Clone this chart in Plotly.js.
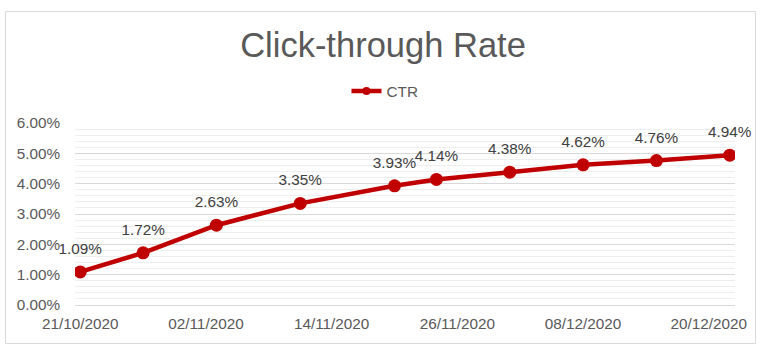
<!DOCTYPE html>
<html>
<head>
<meta charset="utf-8">
<script src="https://cdn.plot.ly/plotly-3.0.1.min.js"></script>
<style>
  html, body { margin: 0; padding: 0; background: #ffffff; }
  #chart { width: 766px; height: 352px; }
</style>
</head>
<body>
<div id="chart"></div>
<script>
const dates = ['2020-10-21', '2020-10-27', '2020-11-03', '2020-11-11', '2020-11-20',
               '2020-11-24', '2020-12-01', '2020-12-08', '2020-12-15', '2020-12-22'];
const ctr = [0.0109, 0.0172, 0.0263, 0.0335, 0.0393, 0.0414, 0.0438, 0.0462, 0.0476, 0.0494];
const seriesName = 'CTR';
const chartTitle = 'Click-through Rate';

const red = '#C00000';
const grey = '#595959';
const fontFam = '"Liberation Sans", Arial, sans-serif';

const lineTrace = {
  type: 'scatter',
  mode: 'lines+markers',
  x: dates,
  y: ctr,
  name: seriesName,
  showlegend: false,
  line: { color: red, width: 4.5 },
  marker: { color: red, size: 13 },
  hoverinfo: 'x+y'
};

const labelTrace = {
  type: 'scatter',
  mode: 'markers+text',
  x: dates,
  y: ctr,
  showlegend: false,
  marker: { color: 'rgba(0,0,0,0)', size: 21 },
  texttemplate: '%{y:.2%}',
  textposition: 'top center',
  textfont: { family: fontFam, size: 15.3, color: '#404040' },
  cliponaxis: false,
  hoverinfo: 'skip'
};

const legendTrace = {
  type: 'scatter',
  mode: 'lines+markers',
  x: [null],
  y: [null],
  name: seriesName,
  line: { color: red, width: 4.5 },
  marker: { color: red, size: 8 },
  hoverinfo: 'skip'
};

const L = 75, R = 735, T = 123, B = 305, W = 766, H = 352;
const pw = R - L, ph = B - T;
const px = v => (v - L) / pw;
const py = v => (B - v) / ph;

const layout = {
  width: W, height: H,
  margin: { l: L, r: W - R, t: T, b: H - B, pad: 0, autoexpand: false },
  paper_bgcolor: '#ffffff',
  plot_bgcolor: '#ffffff',
  font: { family: fontFam, color: grey, size: 15 },
  title: {
    text: chartTitle,
    font: { family: fontFam, size: 34.5, color: grey },
    x: 0.5, xanchor: 'center', xref: 'container',
    y: 1 - 45 / H, yanchor: 'middle', yref: 'container'
  },
  showlegend: true,
  legend: {
    orientation: 'h',
    x: px(385), xanchor: 'center',
    y: py(91), yanchor: 'middle',
    font: { family: fontFam, size: 15.3, color: grey },
    bgcolor: 'rgba(0,0,0,0)'
  },
  xaxis: {
    type: 'date',
    range: ['2020-10-20 12:00', '2020-12-22 12:00'],
    tick0: '2020-10-21',
    dtick: 12 * 86400000,
    tickformat: '%d/%m/%Y',
    tickangle: 0,
    showgrid: false,
    zeroline: false,
    showline: true,
    linecolor: '#d9d9d9',
    linewidth: 1,
    ticks: '',
    ticklabelstandoff: 5,
    tickfont: { family: fontFam, size: 15.3, color: grey },
    fixedrange: true
  },
  yaxis: {
    range: [0, 0.06],
    dtick: 0.01,
    tickformat: '.2%',
    showgrid: true,
    gridcolor: '#d9d9d9',
    gridwidth: 1,
    minor: { dtick: 0.002, showgrid: true, gridcolor: '#eeeeee', gridwidth: 1 },
    zeroline: false,
    showline: false,
    ticks: '',
    ticklabelstandoff: 14,
    tickfont: { family: fontFam, size: 15.3, color: grey },
    fixedrange: true
  },
  shapes: [{
    type: 'rect', xref: 'paper', yref: 'paper',
    x0: px(5.5), x1: px(755.5), y0: py(343.5), y1: py(11.5),
    line: { color: '#d9d9d9', width: 1 },
    fillcolor: 'rgba(0,0,0,0)', layer: 'below'
  }]
};

Plotly.newPlot('chart', [lineTrace, labelTrace, legendTrace], layout, { displayModeBar: false, staticPlot: true });
</script>
</body>
</html>
